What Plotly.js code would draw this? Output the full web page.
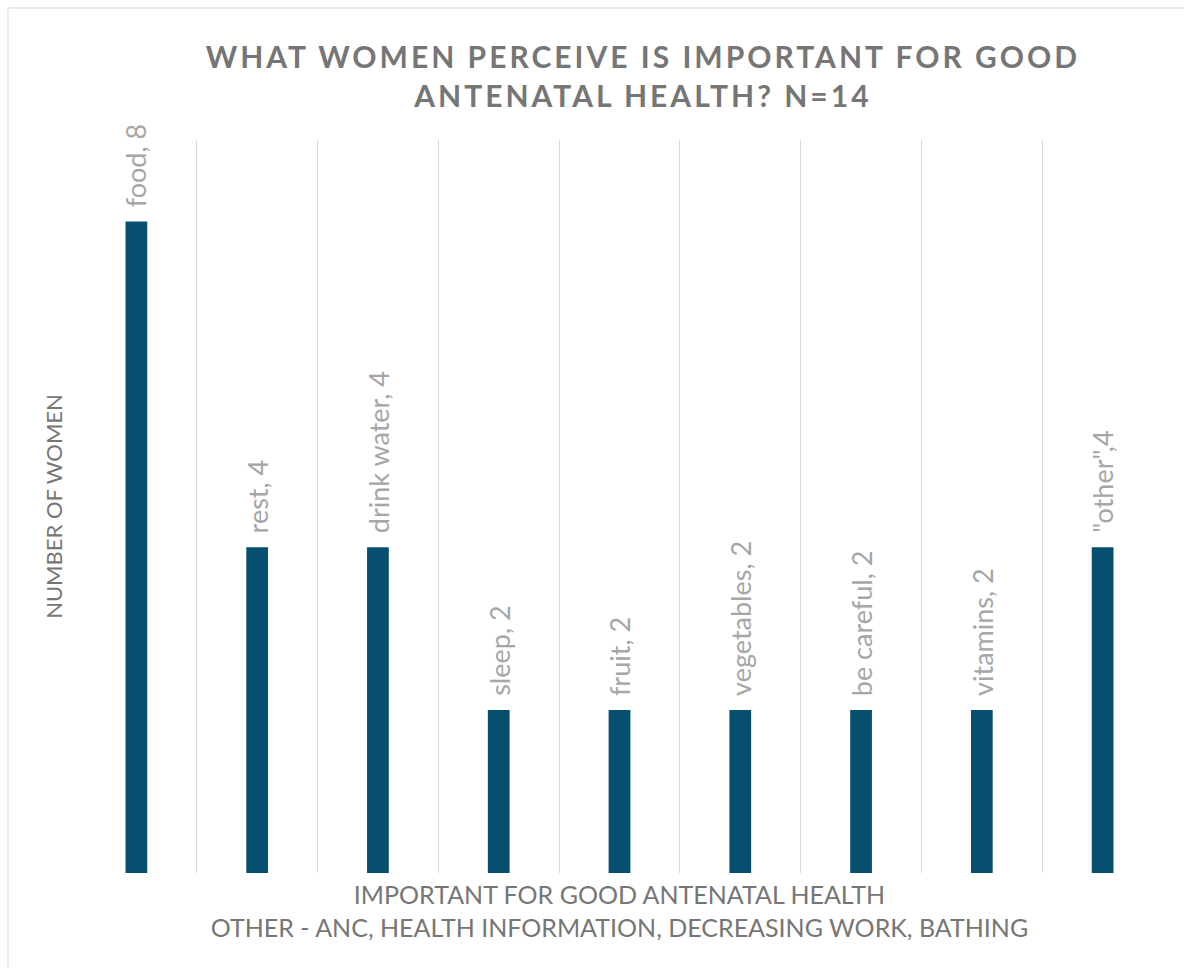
<!DOCTYPE html>
<html>
<head>
<meta charset="utf-8">
<script src="https://cdn.plot.ly/plotly-3.0.1.min.js"></script>
<style>
  html, body { margin: 0; padding: 0; background: #fff; }
  #chart { width: 1184px; height: 968px; }
  .gtitle { letter-spacing: 3px; }
</style>
</head>
<body>
<div id="chart"></div>
<script>
const categories = ["food", "rest", "drink water", "sleep", "fruit", "vegetables", "be careful", "vitamins", "\"other\""];
const counts = [8, 4, 4, 2, 2, 2, 2, 2, 4];
const labels = ["food, 8", "rest, 4", "drink water, 4", "sleep, 2", "fruit, 2", "vegetables, 2", "be careful, 2", "vitamins, 2", "\"other\",4"];

const W = 1184, H = 968;
const L = 76, R = 21, T = 140, B = 95;
const pw = W - L - R, ph = H - T - B;

const trace = {
  type: "bar",
  x: categories,
  y: counts,
  width: 0.18,
  marker: { color: "#064f6e", line: { width: 0 } },
  hoverinfo: "x+y"
};

const annotations = categories.map((c, i) => ({
  x: c, y: counts[i], xref: "x", yref: "y",
  text: labels[i], textangle: -90, showarrow: false,
  xanchor: "center", yanchor: "bottom", yshift: 12,
  font: { family: "Lato, 'Open Sans', sans-serif", size: 27, color: "#a6a6a6" }
}));

const layout = {
  width: W, height: H,
  margin: { l: L, r: R, t: T, b: B, pad: 0 },
  paper_bgcolor: "#ffffff",
  plot_bgcolor: "#ffffff",
  showlegend: false,
  title: {
    text: "WHAT WOMEN PERCEIVE IS IMPORTANT FOR GOOD<br>ANTENATAL HEALTH? N=14",
    font: { family: "Lato, 'Open Sans', sans-serif", size: 30, color: "#767676", weight: "bold" },
    x: 0.543, xref: "container", xanchor: "center",
    y: 0.93, yref: "container", yanchor: "top"
  },
  xaxis: {
    type: "category",
    tickson: "boundaries",
    showgrid: true, gridcolor: "#d9d9d9", gridwidth: 1,
    showticklabels: false, ticks: "",
    showline: false, zeroline: false,
    range: [-0.5, 8.5],
    title: {
      text: "IMPORTANT FOR GOOD ANTENATAL HEALTH<br>OTHER - ANC, HEALTH INFORMATION, DECREASING WORK, BATHING",
      font: { family: "Lato, 'Open Sans', sans-serif", size: 25, color: "#767676" },
      standoff: 13
    }
  },
  yaxis: {
    range: [0, 9],
    showgrid: false, zeroline: false, showline: false,
    showticklabels: false, ticks: "",
    title: {
      text: "NUMBER OF WOMEN",
      font: { family: "Lato, 'Open Sans', sans-serif", size: 22, color: "#767676" },
      standoff: 6
    }
  },
  annotations: annotations,
  shapes: [{
    type: "rect", xref: "paper", yref: "paper",
    x0: (8 - L) / pw, x1: 2, y0: -1, y1: (H - B - 8) / ph,
    line: { color: "#d9d9d9", width: 1 }, fillcolor: "rgba(0,0,0,0)", layer: "below"
  }]
};

Plotly.newPlot("chart", [trace], layout, { displayModeBar: false, staticPlot: true });
</script>
</body>
</html>
